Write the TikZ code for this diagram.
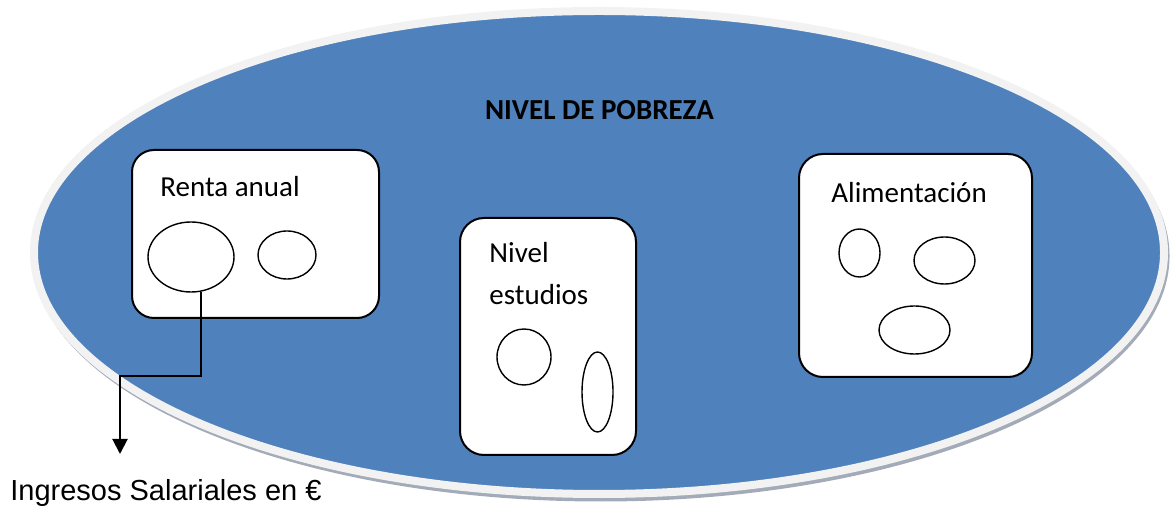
\documentclass[tikz,border=0pt]{standalone}
\usepackage{fontspec}
\setmainfont{Carlito}
\newfontfamily\arialfont{Liberation Sans}
\usetikzlibrary{shapes.geometric,arrows.meta}
\definecolor{pblue}{HTML}{4F81BD}
\definecolor{prim}{HTML}{F2F2F2}
\definecolor{pshadow}{HTML}{A3ABB9}
\tikzset{
  roundbox/.style={draw=black, line width=1pt, fill=white, rounded corners=12pt, inner sep=0pt},
  oval/.style={draw=black, line width=0.7pt, fill=white, ellipse, inner sep=0pt},
  lbl/.style={font=\fontsize{14.5}{17}\selectfont, inner sep=0pt, anchor=base west},
  conn/.style={draw=black, line width=1pt, -{Triangle[length=7.5pt,width=7.5pt]}}
}
\begin{document}
\begin{tikzpicture}[x=0.5pt,y=-0.5pt]
\useasboundingbox (0,0) rectangle (1170,506);
% main ellipse
\node[ellipse, fill=pshadow, inner sep=0pt, minimum width=568.5pt, minimum height=245.5pt] (shadow) at (601,256) {};
\node[ellipse, fill=pblue, draw=prim, line width=4pt, inner sep=0pt, minimum width=565pt, minimum height=241.5pt] (pobreza) at (599,252.5) {};
\node[font=\bfseries\fontsize{14.5}{17}\selectfont, inner sep=0pt, anchor=base] (title) at (599.5,120) {NIVEL DE POBREZA};
% Renta anual
\node[roundbox, rounded corners=11pt, minimum width=123.5pt, minimum height=84pt] (renta) at (255.5,234) {};
\node[lbl] (rentat) at (160,197) {Renta anual};
\node[oval, minimum width=43pt, minimum height=35pt] (r1) at (191,257) {};
\node[oval, minimum width=29pt, minimum height=24pt] (r2) at (287,255) {};
% Nivel estudios
\node[roundbox, minimum width=88pt, minimum height=118.5pt] (nivel) at (548,336.5) {};
\node[lbl] (nivelt1) at (489,263) {Nivel};
\node[lbl] (nivelt2) at (489,305) {estudios};
\node[oval, minimum width=27pt, minimum height=28pt] (n1) at (524,357) {};
\node[oval, minimum width=15.5pt, minimum height=40pt] (n2) at (597.5,392) {};
% Alimentacion
\node[roundbox, minimum width=116.5pt, minimum height=111.5pt] (alim) at (915.5,265.5) {};
\node[lbl] (alimt) at (831,203) {Alimentación};
\node[oval, minimum width=20.5pt, minimum height=24pt] (a1) at (859.5,253) {};
\node[oval, minimum width=30.5pt, minimum height=23.5pt] (a2) at (944.5,260.5) {};
\node[oval, minimum width=35.5pt, minimum height=24pt] (a3) at (914.5,330) {};
% connector
\node[lbl, font=\arialfont\fontsize{14.5}{17}\selectfont] (ingresos) at (10,501) {Ingresos Salariales en €};
\coordinate (bend) at (120,376);
\coordinate (tip) at (120,454);
\draw[conn] (r1.-74) |- (bend) -- (tip);
\end{tikzpicture}
\end{document}
